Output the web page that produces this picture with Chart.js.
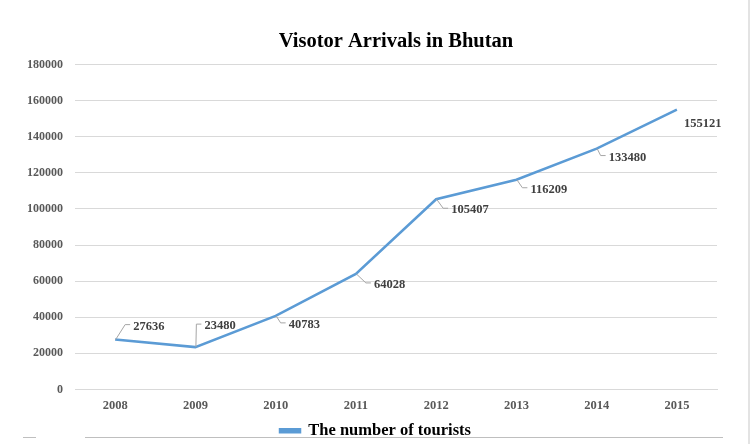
<!DOCTYPE html>
<html>
<head>
<meta charset="utf-8">
<script src="https://cdn.jsdelivr.net/npm/chart.js@4/dist/chart.umd.min.js"></script>
<style>
    html, body { margin: 0; padding: 0; background: #fff; }
    #wrap { width: 751px; height: 444px; position: relative; }
</style>
</head>
<body>
<div id="wrap"><canvas id="chart"></canvas></div>
<script>
// Data
const years = ['2008', '2009', '2010', '2011', '2012', '2013', '2014', '2015'];
const tourists = [27636, 23480, 40783, 64028, 105407, 116209, 133480, 155121];
const seriesName = 'The number of tourists';
const chartTitle = 'Visotor Arrivals in Bhutan';

// Where each data label sits relative to its point (px), and whether it has a leader line
const labelOffsets = [[18, -13], [9, -21], [13, 9], [18, 11], [15, 11], [14, 10], [12, 9], [7, 14]];
const labelLeaders = [true, true, true, true, true, true, true, false];

const FONT = "'Liberation Serif', 'Times New Roman', serif";
const LINE_COLOR = '#5b9bd5';

// Draws Excel-style data labels with leader lines
const dataLabels = {
    id: 'dataLabels',
    afterDatasetsDraw(chart) {
        const ctx = chart.ctx;
        const meta = chart.getDatasetMeta(0);
        ctx.save();
        ctx.font = 'bold 12.5px ' + FONT;
        ctx.textBaseline = 'middle';
        ctx.textAlign = 'left';
        meta.data.forEach((pt, i) => {
            const [dx, dy] = labelOffsets[i];
            const tx = pt.x + dx;
            const ty = pt.y + dy;
            if (labelLeaders[i]) {
                ctx.strokeStyle = '#a6a6a6';
                ctx.lineWidth = 1;
                ctx.beginPath();
                ctx.moveTo(pt.x + 0.5, pt.y);
                ctx.lineTo(tx - 8, ty - 2);
                ctx.lineTo(tx - 3, ty - 2);
                ctx.stroke();
            }
            ctx.fillStyle = '#404040';
            ctx.fillText(String(tourists[i]), tx, ty);
        });
        ctx.restore();
    }
};

// Page edges visible in the reference screenshot, and the legend nudged to the page centre
const pageEdges = {
    id: 'pageEdges',
    afterLayout(chart) {
        chart.legend.left += 10;
        chart.legend.right += 10;
    },
    beforeDraw(chart) {
        const ctx = chart.ctx;
        ctx.save();
        ctx.fillStyle = '#ffffff';
        ctx.fillRect(0, 0, chart.width, chart.height);
        ctx.strokeStyle = '#bfbfbf';
        ctx.lineWidth = 1;
        ctx.beginPath();
        ctx.moveTo(23, 437.5); ctx.lineTo(36, 437.5);
        ctx.moveTo(85, 437.5); ctx.lineTo(723, 437.5);
        ctx.stroke();
        ctx.strokeStyle = '#e3e3e3';
        ctx.lineWidth = 2;
        ctx.beginPath();
        ctx.moveTo(749, 0); ctx.lineTo(749, chart.height);
        ctx.stroke();
        ctx.restore();
    }
};

new Chart(document.getElementById('chart'), {
    type: 'line',
    data: {
        labels: years,
        datasets: [{
            label: seriesName,
            data: tourists,
            borderColor: LINE_COLOR,
            backgroundColor: LINE_COLOR,
            borderWidth: 2.5,
            pointRadius: 0,
            tension: 0
        }]
    },
    options: {
        responsive: true,
        maintainAspectRatio: false,
        animation: false,
        layout: { padding: { left: 14, right: 34, top: 17, bottom: -5 } },
        plugins: {
            title: {
                display: true,
                fullSize: false,
                text: chartTitle,
                color: '#000',
                font: { family: FONT, size: 20.5, weight: 'bold' },
                padding: { top: 12, bottom: 11 }
            },
            legend: {
                position: 'bottom',
                labels: {
                    color: '#000',
                    font: { family: FONT, size: 16.5, weight: 'bold' },
                    boxWidth: 20,
                    boxHeight: 3,
                    padding: 0
                }
            },
            tooltip: { enabled: false }
        },
        scales: {
            x: {
                offset: true,
                grid: { display: false, drawTicks: false },
                border: { display: true, color: '#d9d9d9' },
                ticks: {
                    color: '#595959',
                    padding: 9,
                    font: { family: FONT, size: 12.5, weight: 'bold' }
                }
            },
            y: {
                min: 0,
                max: 180000,
                afterFit(scale) { scale.width = 61; },
                grid: { color: '#d9d9d9', drawTicks: false },
                border: { display: false },
                ticks: {
                    stepSize: 20000,
                    color: '#595959',
                    padding: 12,
                    callback: (v) => String(v),
                    font: { family: FONT, size: 12, weight: 'bold' }
                }
            }
        }
    },
    plugins: [pageEdges, dataLabels]
});
</script>
</body>
</html>
